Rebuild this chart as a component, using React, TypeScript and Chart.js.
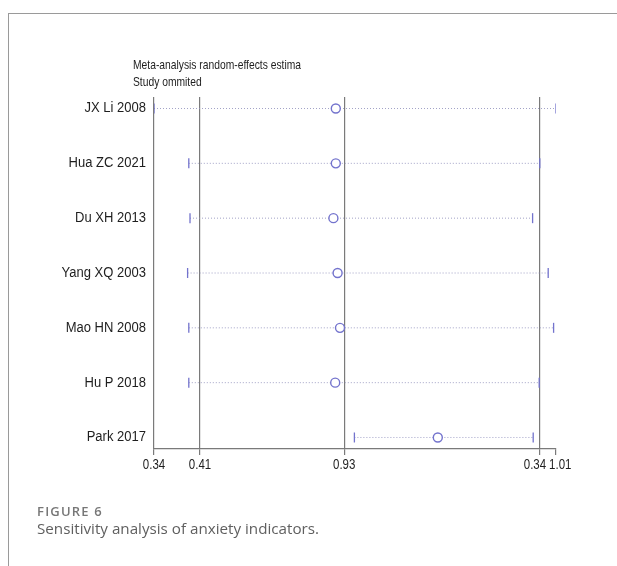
import React, { useEffect, useRef } from "react";
import { Chart, registerables } from "chart.js";

Chart.register(...registerables);

const studies = ["JX Li 2008", "Hua ZC 2021", "Du XH 2013", "Yang XQ 2003", "Mao HN 2008", "Hu P 2018", "Park 2017"];
const estimates = [0.643, 0.643, 0.639, 0.646, 0.650, 0.642, 0.813];
const lowerCI = [0.340, 0.398, 0.400, 0.396, 0.398, 0.398, 0.674];
const upperCI = [1.010, 0.983, 0.971, 0.997, 1.006, 0.982, 0.972];
const tickValues = [0.34, 0.4167, 0.657, 0.982, 1.01];
const tickLabels = ["0.34", "0.41", "0.93", "0.34", "1.01"];
const titleLines = ["Meta-analysis random-effects estima", "Study ommited"];

const CANVAS_W = 608;
const CANVAS_H = 480;
const FONT = "'Liberation Sans', Arial, sans-serif";

function drawCondensed(ctx: any, text: string, x: number, y: number, align: string, sx: number) {
  ctx.save();
  ctx.translate(x, y);
  ctx.scale(sx, 1);
  ctx.textAlign = align;
  ctx.fillText(text, 0, 0);
  ctx.restore();
}

const textPlugin = {
  id: "stataText",
  afterDraw(chart: any) {
    const { ctx, chartArea, scales } = chart;
    ctx.save();
    ctx.fillStyle = "#1e1e1e";
    ctx.textBaseline = "middle";
    // title
    ctx.font = `13px ${FONT}`;
    const tw = ctx.measureText(titleLines[0]).width;
    const tsx = 168 / tw;
    drawCondensed(ctx, titleLines[0], chartArea.left - 21, chartArea.top - 32, "left", tsx);
    drawCondensed(ctx, titleLines[1], chartArea.left - 21, chartArea.top - 15, "left", tsx);
    // y labels
    ctx.font = `14px ${FONT}`;
    studies.forEach((s, i) => {
      const y = scales.y.getPixelForValue(i + 1);
      drawCondensed(ctx, s, chartArea.left - 8, y, "right", 0.93);
    });
    // x labels
    ctx.font = `14px ${FONT}`;
    const sx = 0.82;
    const centers = tickValues.map((v) => scales.x.getPixelForValue(v));
    const widths = tickLabels.map((t) => ctx.measureText(t).width * sx);
    const gap = 3;
    for (let i = 1; i < centers.length; i++) {
      const need = (widths[i - 1] + widths[i]) / 2 + gap;
      const have = centers[i] - centers[i - 1];
      if (have < need) {
        const d = (need - have) / 2;
        centers[i - 1] -= d;
        centers[i] += d;
      }
    }
    const ly = chartArea.bottom + 16;
    tickLabels.forEach((t, i) => drawCondensed(ctx, t, centers[i], ly, "center", sx));
    ctx.restore();
  },
};

export default function App() {
  const ref = useRef<HTMLCanvasElement>(null);
  useEffect(() => {
    if (!ref.current) return;
    const dotColor = "rgba(140,140,185,0.8)";
    const markColor = "rgb(115,115,205)";
    const ciSets = studies.map((s, i) => ({
      type: "line" as const,
      label: s,
      data: [
        { x: lowerCI[i], y: i + 1 },
        { x: upperCI[i], y: i + 1 },
      ],
      borderColor: dotColor,
      borderWidth: 1,
      borderDash: [1, 2],
      pointStyle: "line",
      rotation: 90,
      pointRadius: 5,
      pointBorderColor: markColor,
      pointBorderWidth: 1.3,
      pointHoverRadius: 5,
      order: 2,
    }));
    const estSet = {
      type: "scatter" as const,
      label: "Estimate",
      data: estimates.map((e, i) => ({ x: e, y: i + 1 })),
      pointStyle: "circle",
      pointRadius: 4.5,
      pointBackgroundColor: "rgba(255,255,255,1)",
      pointBorderColor: markColor,
      pointBorderWidth: 1.4,
      showLine: false,
      order: 1,
    };
    const chart = new Chart(ref.current, {
      type: "scatter",
      data: { datasets: [...ciSets, estSet] as any },
      options: {
        animation: false,
        responsive: false,
        events: [],
        layout: { padding: { left: 0, top: 83, right: 61, bottom: 5 } },
        plugins: { legend: { display: false }, tooltip: { enabled: false }, title: { display: false } },
        scales: {
          x: {
            type: "linear",
            min: 0.34,
            max: 1.01,
            afterBuildTicks: (axis: any) => {
              axis.ticks = tickValues.map((v) => ({ value: v }));
            },
            afterFit: (axis: any) => {
              axis.height = 40;
            },
            ticks: {
              display: false,
              autoSkip: false,
              maxRotation: 0,
            },
            grid: {
              drawOnChartArea: true,
              drawTicks: true,
              tickLength: 6,
              color: (c: any) => (c.index === 4 ? "rgba(0,0,0,0)" : "#7a7a7a"),
              tickColor: "#7a7a7a",
              lineWidth: 1.2,
            },
            border: { display: true, color: "#7a7a7a", width: 1.2 },
          },
          y: {
            type: "linear",
            reverse: true,
            min: 0.79,
            max: 7.21,
            afterBuildTicks: (axis: any) => {
              axis.ticks = studies.map((_, i) => ({ value: i + 1 }));
            },
            afterFit: (axis: any) => {
              axis.width = 145;
            },
            ticks: { display: false },
            grid: { display: false, drawTicks: false },
            border: { display: false },
          },
        },
      },
      plugins: [textPlugin],
    } as any);
    return () => chart.destroy();
  }, []);

  return (
    <div
      style={{
        position: "fixed",
        left: 8,
        top: 13,
        width: 620,
        height: 560,
        borderTop: "1px solid #9a9a9a",
        borderLeft: "1px solid #9a9a9a",
        boxSizing: "border-box",
      }}
    >
      <canvas ref={ref} width={CANVAS_W} height={CANVAS_H} style={{ position: "absolute", left: 0, top: 0, width: CANVAS_W, height: CANVAS_H }} />
      <div
        style={{
          position: "absolute",
          left: 28,
          top: 489,
          fontFamily: "'Open Sans', sans-serif",
          fontSize: 13,
          fontWeight: 600,
          color: "#777",
          lineHeight: "16px",
          letterSpacing: 1.2,
          whiteSpace: "nowrap",
        }}
      >
        FIGURE 6
      </div>
      <div
        style={{
          position: "absolute",
          left: 28,
          top: 504,
          fontFamily: "'Open Sans', sans-serif",
          fontSize: 15.2,
          color: "#5f5f5f",
          lineHeight: "20px",
          whiteSpace: "nowrap",
        }}
      >
        Sensitivity analysis of anxiety indicators.
      </div>
    </div>
  );
}
